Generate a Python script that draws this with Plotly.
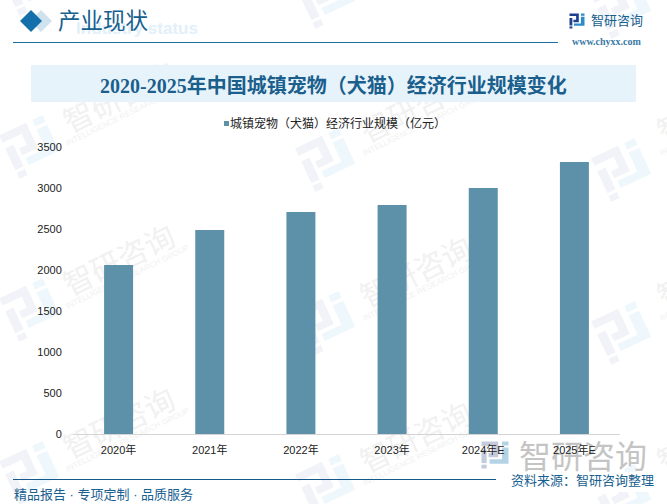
import math

import plotly.graph_objects as go

W = 667
H = 504

categories = ["2020年", "2021年", "2022年", "2023年", "2024年E", "2025年E"]
values = [2060, 2488, 2707, 2793, 3000, 3317]
series_name = "城镇宠物（犬猫）经济行业规模（亿元）"
y_ticks = [0, 500, 1000, 1500, 2000, 2500, 3000, 3500]

title = "2020-2025年中国城镇宠物（犬猫）经济行业规模变化"
section = "产业现状"
section_en = "Industry status"
brand = "智研咨询"
brand_en = "INTELLIGENCE RESEARCH GROUP"
site = "www.chyxx.com"
footer_left = "精品报告 · 专项定制 · 品质服务"
footer_right = "资料来源：智研咨询整理"

SANS = "Liberation Sans, Noto Sans CJK SC, sans-serif"
SERIF = "Liberation Serif, Noto Sans CJK SC, serif"
BLUE = "#17608f"

# logo pieces in a unit square (y going down)
LOGO_DARK = [
    [(0, 0), (0.62, 0), (0.62, 0.58), (0.26, 0.58), (0.26, 0.42), (0.44, 0.42), (0.44, 0.17), (0, 0.17)],
    [(0, 0.3), (0.19, 0.3), (0.19, 0.8), (0, 0.8)],
    [(0, 0.86), (0.19, 0.86), (0.19, 1), (0, 1)],
]
LOGO_LIGHT = [
    [(0.76, 0.22), (1, 0.22), (1, 0.82), (0.3, 0.82), (0.3, 0.66), (0.76, 0.66)],
    [(0.76, 0), (1, 0), (1, 0.15), (0.76, 0.15)],
]


def px(x, y):
    # page pixels to paper coordinates, the margins are all zero
    return x / W, 1 - y / H


def polygon(points, color, layer="below"):
    path = ""
    for i, (x, y) in enumerate(points):
        a, b = px(x, y)
        path += ("M" if i == 0 else "L") + f"{a:.5f},{b:.5f}"
    return dict(type="path", xref="paper", yref="paper", path=path + "Z",
                fillcolor=color, line_width=0, layer=layer)


def logo(cx, cy, size, angle, dark, light):
    out = []
    t = math.radians(angle)
    for pieces, color in ((LOGO_DARK, dark), (LOGO_LIGHT, light)):
        for piece in pieces:
            pts = []
            for u, v in piece:
                dx, dy = (u - 0.5) * size, (v - 0.5) * size
                pts.append((cx + dx * math.cos(t) + dy * math.sin(t),
                            cy - dx * math.sin(t) + dy * math.cos(t)))
            out.append(polygon(pts, color))
    return out


def back_text(text, cx, cy, size, color, family=SANS, angle=0):
    # text kept in a shape label so that it stays behind the bars
    x0, y0 = px(cx - 5, cy - 5)
    x1, y1 = px(cx + 5, cy + 5)
    return dict(type="rect", xref="paper", yref="paper", x0=x0, x1=x1, y0=y0, y1=y1,
                fillcolor="rgba(0,0,0,0)", line_width=0, layer="below",
                label=dict(text=text, textangle=angle, textposition="middle center",
                           font=dict(size=size, color=color, family=family)))


def note(text, x, y, size, color, anchor="left", family=SANS):
    a, b = px(x, y)
    return dict(text=text, x=a, y=b, xref="paper", yref="paper", showarrow=False,
                xanchor=anchor, yanchor="middle",
                font=dict(size=size, color=color, family=family))


def rect(x0, y0, x1, y1, color, layer="below"):
    return polygon([(x0, y0), (x1, y0), (x1, y1), (x0, y1)], color, layer)


shapes = []

# watermark
for lx, ly in [(31, -16), (31, 147), (31, 310), (31, 473),
               (327, -3), (327, 160), (327, 323), (327, 486),
               (623, 7), (623, 170), (623, 333), (623, 496)]:
    shapes += logo(lx, ly, 48, 25, "#f1f3f8", "#eef7fc")
for tx, ty in [(118, 95), (118, 258), (118, 421),
               (415, 105), (415, 270), (415, 435),
               (712, 105), (712, 270), (712, 435)]:
    shapes.append(back_text(brand, tx, ty, 30, "#f1f1f1", SERIF, -26))
    shapes.append(back_text(brand_en, tx + 9, ty + 18, 8, "#f1f1f1", SANS, -26))

# header
shapes.append(back_text(f"<b>{section_en}</b>", 137, 26, 17, "#e2f0f9", "Liberation Sans"))
shapes.append(polygon([(41, 10), (52, 21), (41, 32), (30, 21)], "#cfe2ee"))
shapes.append(polygon([(31, 10), (42, 21), (31, 32), (20, 21)], "#1470aa"))
shapes.append(rect(13, 42, 558, 43, "#1a6fa0"))
shapes += logo(577, 21, 15, 0, "#1f3f8f", "#2a8cc8")

# title band
shapes.append(rect(31, 65, 636, 102, "#e7f3fb"))

# legend swatch
shapes.append(rect(224, 121, 229, 126, "#5d91a9"))

# big mark at the bottom right, then the footer
shapes += logo(495, 455, 27, 0, "#c3cbdc", "#b4d4e6")
shapes.append(back_text(brand, 583, 454, 32, "#c4c4c4", SANS))
shapes.append(back_text("w w w . c h y x x . c o m", 570, 475, 11, "#bbbbbb", SANS))
shapes.append(rect(511, 472, 667, 492, "#ffffff"))
shapes.append(rect(13, 479, 496, 480, "#155a8a"))

annotations = [
    note(section, 56, 22, 22.5, BLUE, family=SERIF),
    note(f"<b>{title}</b>", 333.5, 85, 20, "#1b5f8c", "center", SERIF),
    note(series_name, 228, 123, 12, "#222222"),
    note(brand, 589, 21, 13, BLUE),
    note(f"<b>{site}</b>", 606.5, 41, 10, "#3b7aa5", "center", SERIF),
    note(footer_left, 12, 494, 13, BLUE),
    note(footer_right, 509, 480, 13, BLUE),
]

fig = go.Figure()
fig.add_trace(go.Bar(x=categories, y=values, name=series_name,
                     marker=dict(color="#5d91a9", line_width=0), width=0.318))
fig.update_layout(
    width=W, height=H, autosize=False,
    margin=dict(l=0, r=0, t=0, b=0, pad=0, autoexpand=False),
    paper_bgcolor="rgba(0,0,0,0)", plot_bgcolor="rgba(0,0,0,0)",
    showlegend=False,
    shapes=shapes, annotations=annotations,
    font=dict(family=SANS, size=11, color="#222222"),
)
fig.update_xaxes(domain=[73 / W, 620 / W], showgrid=False,
                 ticks="outside", ticklen=6, tickcolor="rgba(0,0,0,0)",
                 showline=True, linecolor="#d4d4d4", linewidth=1,
                 tickfont=dict(size=11, color="#222222"))
fig.update_yaxes(domain=[(H - 434) / H, (H - 147) / H], range=[0, 3500],
                 tickvals=y_ticks, showgrid=False, zeroline=False,
                 ticks="outside", ticklen=8, tickcolor="rgba(0,0,0,0)",
                 showline=False, tickfont=dict(size=11, color="#222222"))

fig.write_html("out.html", config={"displayModeBar": False},
               post_script="document.body.style.margin='0';")
